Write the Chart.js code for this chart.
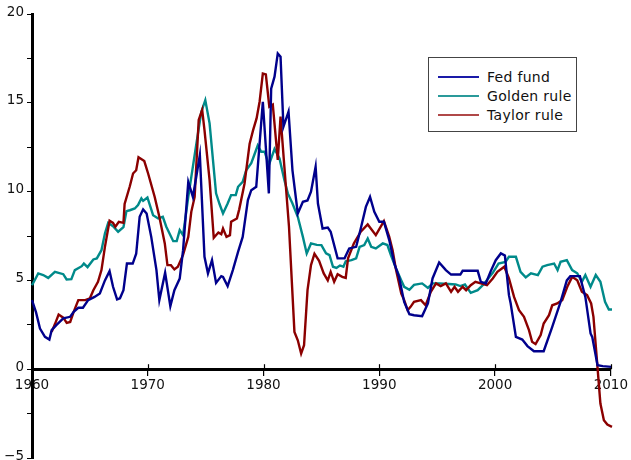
<!DOCTYPE html>
<html>
<head>
<meta charset="utf-8">
<script src="https://cdn.jsdelivr.net/npm/chart.js@4/dist/chart.umd.min.js"></script>
<style>
  html, body { margin: 0; padding: 0; background: #fff; }
  #wrap { position: relative; width: 631px; height: 460px; }
  #legend { position: absolute; left: 428px; top: 57px; width: 147px; height: 73px;
    border: 1.5px solid #444; background: #fff; font-family: "DejaVu Sans", sans-serif; font-size: 14px; color: #111; }
  .row { position: absolute; left: 0; height: 18px; }
  .sample { position: absolute; left: 9px; width: 41px; height: 2px; top: 8px; }
  .label { position: absolute; left: 58px; top: 0; line-height: 18px; white-space: nowrap; letter-spacing: 0.3px; }
</style>
</head>
<body>
<div id="wrap">
  <canvas id="c" width="631" height="460"></canvas>
  <div id="legend"></div>
</div>
<script>
// ---- Data ----
const seriesNames = ["Fed fund", "Golden rule", "Taylor rule"];
const seriesColors = ["#00008c", "#008a8a", "#8b0000"];
const legendColors = ["#1a1aa8", "#2a9a9a", "#b04848"];
const xTickLabels = [1960, 1970, 1980, 1990, 2000, 2010];
const yTickLabels = [-5, 0, 5, 10, 15, 20];

const fedYears = [1960.0,1960.35,1960.69,1961.12,1961.5,1961.7,1962.1,1962.7,1963.3,1963.6,1964.0,1964.4,1964.85,1965.4,1965.86,1966.3,1966.7,1967.0,1967.35,1967.6,1967.9,1968.2,1968.7,1969.0,1969.3,1969.6,1969.9,1970.3,1970.75,1971.0,1971.5,1971.95,1972.3,1972.76,1973.05,1973.5,1973.9,1974.5,1974.9,1975.2,1975.55,1975.9,1976.35,1976.5,1976.9,1977.35,1977.8,1978.2,1978.65,1978.94,1979.37,1979.66,1979.94,1980.46,1980.66,1980.95,1981.23,1981.47,1981.72,1982.16,1982.5,1982.96,1983.4,1983.8,1984.1,1984.5,1984.7,1985.1,1985.55,1985.8,1986.4,1987.0,1987.4,1988.0,1988.4,1988.84,1989.2,1989.57,1990.0,1990.4,1990.86,1991.3,1991.7,1992.15,1992.6,1993.0,1993.7,1994.2,1994.6,1995.17,1995.75,1996.2,1997.0,1997.2,1998.5,1998.77,1999.2,1999.6,2000.06,2000.5,2000.85,2001.2,2001.35,2001.8,2002.35,2002.8,2003.36,2004.2,2004.94,2005.66,2006.2,2006.5,2007.33,2007.8,2008.25,2008.4,2008.85,2009.3,2010.05];
const fedValues = [3.89,3.2,2.29,1.82,1.67,2.2,2.48,2.86,2.95,3.23,3.46,3.46,3.89,4.07,4.26,5.0,5.52,4.64,3.93,3.99,4.45,5.95,5.95,6.5,8.58,9.0,8.77,7.45,5.58,3.89,5.43,3.55,4.45,5.1,6.7,10.55,9.7,12.06,6.33,5.39,6.14,4.86,5.24,5.2,4.68,5.58,6.61,7.45,9.52,10.08,10.27,12.7,15.06,9.9,15.8,16.47,17.78,17.6,13.65,14.5,11.2,8.77,9.43,9.5,9.99,11.4,9.33,7.92,7.97,7.74,6.24,6.24,6.8,6.89,7.92,9.14,9.7,8.86,8.3,8.3,7.27,5.95,5.2,3.79,3.1,3.04,2.99,3.7,5.11,6.01,5.58,5.33,5.33,5.54,5.54,4.92,4.83,5.48,6.14,6.52,6.4,4.17,3.7,1.82,1.67,1.3,1.01,1.01,2.38,3.79,5.0,5.24,5.24,4.07,2.01,1.8,0.22,0.17,0.13];

const goldenYears = [1960.0,1960.54,1960.97,1961.4,1961.98,1962.7,1962.99,1963.4,1963.7,1964.3,1964.48,1964.8,1965.3,1965.6,1966.0,1966.3,1966.58,1967.0,1967.44,1967.9,1968.16,1968.45,1968.88,1969.16,1969.45,1969.6,1969.97,1970.46,1970.9,1971.3,1971.6,1972.2,1972.5,1972.76,1973.05,1973.5,1974.2,1974.63,1974.97,1975.34,1975.9,1976.2,1976.5,1976.9,1977.2,1977.6,1977.8,1978.2,1978.5,1978.94,1979.2,1979.5,1979.8,1980.1,1980.46,1980.95,1981.38,1981.8,1982.1,1982.5,1982.96,1983.4,1983.73,1984.1,1984.6,1985.0,1985.4,1985.7,1986.0,1986.3,1986.6,1986.9,1987.1,1987.6,1988.0,1988.3,1988.7,1989.0,1989.3,1989.7,1990.3,1990.7,1991.0,1991.45,1991.9,1992.15,1992.6,1993.0,1993.7,1994.2,1994.6,1995.2,1996.0,1996.6,1997.0,1997.4,1997.9,1998.5,1999.0,1999.8,2000.3,2000.9,2001.2,2001.8,2002.2,2002.65,2003.1,2003.7,2004.1,2004.5,2005.1,2005.4,2005.66,2006.2,2006.66,2007.1,2007.5,2007.8,2008.25,2008.7,2009.1,2009.5,2009.83,2010.1];
const goldenValues = [4.73,5.39,5.3,5.14,5.48,5.35,5.05,5.07,5.58,5.8,5.95,5.75,6.18,6.24,6.7,7.64,8.24,8.05,7.74,8.0,8.9,8.95,9.05,9.24,9.62,9.48,9.67,8.67,8.49,8.58,8.02,7.21,7.21,7.83,7.55,9.7,12.7,14.5,15.15,13.84,9.9,9.3,8.77,9.33,9.8,9.8,10.27,10.55,11.2,11.6,12.06,12.6,12.24,12.24,11.5,12.4,11.87,10.65,9.9,9.33,8.58,7.45,6.52,7.08,7.0,6.99,6.52,6.42,5.77,5.7,5.84,5.77,6.08,6.14,6.24,6.89,6.99,7.36,6.89,6.8,7.08,6.99,6.42,5.67,5.0,4.64,4.47,4.75,4.83,4.58,4.83,4.83,4.8,4.77,4.68,4.77,4.3,4.45,4.77,5.43,5.95,6.04,6.33,6.33,5.48,5.17,5.4,5.3,5.77,5.86,5.95,5.58,6.05,6.14,5.58,5.4,4.92,5.3,4.64,5.3,4.92,3.79,3.36,3.36];

const taylorYears = [1961.7,1962.0,1962.3,1962.7,1963.0,1963.3,1963.6,1964.0,1964.6,1965.0,1965.3,1965.7,1966.0,1966.3,1966.7,1967.0,1967.2,1967.5,1967.9,1968.0,1968.45,1968.73,1969.0,1969.2,1969.7,1970.03,1970.6,1971.0,1971.47,1971.7,1972.0,1972.3,1972.6,1973.04,1973.5,1973.76,1974.05,1974.4,1974.7,1974.9,1975.34,1975.7,1976.1,1976.35,1976.5,1976.8,1977.1,1977.2,1977.7,1977.9,1978.36,1978.8,1979.1,1979.4,1979.66,1979.94,1980.2,1980.5,1980.8,1981.23,1981.47,1981.8,1982.2,1982.67,1982.96,1983.25,1983.5,1983.8,1984.1,1984.4,1984.8,1985.2,1985.55,1985.8,1986.1,1986.4,1986.8,1987.1,1987.3,1987.8,1988.4,1989.0,1989.7,1990.4,1990.86,1991.15,1991.45,1991.9,1992.15,1992.45,1992.7,1993.0,1993.6,1994.0,1994.45,1994.9,1995.3,1995.75,1996.2,1996.5,1996.8,1997.2,1997.5,1997.9,1998.3,1998.77,1999.3,1999.8,2000.2,2000.8,2001.2,2001.64,2002.07,2002.5,2002.93,2003.2,2003.5,2003.94,2004.2,2004.66,2004.94,2005.37,2005.8,2006.24,2006.66,2007.1,2007.5,2007.95,2008.3,2008.5,2008.8,2009.1,2009.4,2009.7,2010.1];
const taylorValues = [2.1,2.57,3.08,2.9,2.61,2.66,3.23,3.89,3.89,3.99,4.45,4.92,5.58,6.89,8.36,8.24,8.02,8.3,8.24,9.3,10.3,11.02,11.2,11.93,11.72,11.02,9.7,8.58,7.08,5.86,5.86,5.62,5.77,6.42,7.45,8.86,9.7,14.03,14.6,13.46,10.65,7.4,7.7,7.6,7.92,7.45,7.55,8.3,8.49,9.0,10.46,12.7,13.46,14.12,15.06,16.65,16.6,14.78,14.9,11.78,14.22,11.4,8.02,2.1,1.63,0.88,1.35,4.45,5.86,6.5,6.1,5.39,5.0,5.48,4.92,5.35,5.2,5.14,6.24,7.08,7.74,8.15,7.55,8.34,7.45,6.7,5.58,4.26,3.89,3.32,3.51,3.79,3.89,3.6,4.36,4.83,4.68,4.83,4.36,4.64,4.36,4.64,4.45,4.73,4.92,4.83,4.73,5.11,5.48,5.77,5.11,4.07,3.32,2.95,2.2,1.54,1.41,1.92,2.57,3.04,3.6,3.7,3.89,4.64,5.2,5.01,4.36,4.17,3.7,2.95,0.51,-1.93,-2.87,-3.12,-3.25];

// ---- Build datasets ----
function pts(xs, ys) { return xs.map((x, i) => ({ x: x, y: ys[i] })); }
const seriesData = [pts(fedYears, fedValues), pts(goldenYears, goldenValues), pts(taylorYears, taylorValues)];
const datasets = seriesNames.map((n, i) => ({
  label: n,
  data: seriesData[i],
  borderColor: seriesColors[i],
  backgroundColor: seriesColors[i],
  borderWidth: 2.4,
  pointRadius: 0,
  tension: 0,
  fill: false,
  clip: 4
}));
datasets[1].order = 3; datasets[2].order = 2; datasets[0].order = 1;

// ---- HTML legend ----
const lg = document.getElementById('legend');
seriesNames.forEach((n, i) => {
  const row = document.createElement('div');
  row.className = 'row';
  row.style.top = (10 + i * 18.8) + 'px';
  row.style.width = '100%';
  const s = document.createElement('div');
  s.className = 'sample';
  s.style.backgroundColor = legendColors[i];
  const t = document.createElement('div');
  t.className = 'label';
  t.textContent = n;
  row.appendChild(s); row.appendChild(t);
  lg.appendChild(row);
});

// ---- Crossing tick marks on x-axis (upper half) ----
const upTicks = {
  id: 'upTicks',
  afterDraw(chart) {
    const xs = chart.scales.x, ys = chart.scales.y;
    const y0 = ys.getPixelForValue(0);
    const ctx = chart.ctx;
    ctx.save();
    ctx.strokeStyle = '#000';
    ctx.lineWidth = 1.2;
    xTickLabels.forEach(v => {
      const px = Math.round(xs.getPixelForValue(v)) + 0.5;
      ctx.beginPath();
      ctx.moveTo(px, y0 - 5);
      ctx.lineTo(px, y0);
      ctx.stroke();
    });
    ctx.restore();
  }
};

const font = { family: '"DejaVu Sans", sans-serif', size: 13.5 };

new Chart(document.getElementById('c'), {
  type: 'line',
  data: { datasets: datasets },
  options: {
    responsive: false,
    animation: false,
    events: [],
    layout: { padding: { top: 14, right: 19, bottom: 2, left: 0 } },
    plugins: { legend: { display: false }, tooltip: { enabled: false } },
    scales: {
      x: {
        type: 'linear',
        min: xTickLabels[0],
        max: xTickLabels[xTickLabels.length - 1],
        position: { y: 0 },
        border: { display: true, color: '#000', width: 3 },
        grid: { display: true, drawOnChartArea: false, drawTicks: true, tickLength: 5, color: '#000', lineWidth: 1.2 },
        ticks: {
          stepSize: 10,
          padding: 3,
          color: '#111',
          font: font,
          maxRotation: 0,
          autoSkip: false,
          callback: (v) => xTickLabels.includes(v) ? String(v) : ''
        }
      },
      y: {
        type: 'linear',
        min: yTickLabels[0],
        max: yTickLabels[yTickLabels.length - 1],
        position: 'left',
        border: { display: true, color: '#000', width: 3 },
        grid: { display: true, drawOnChartArea: false, drawTicks: true, tickLength: 5, color: '#000', lineWidth: 1 },
        ticks: {
          stepSize: 2.5,
          padding: 3,
          labelOffset: -2,
          color: '#111',
          font: font,
          autoSkip: false,
          callback: (v) => yTickLabels.includes(v) ? (v < 0 ? '\u2212' + Math.abs(v) : String(v)) : ''
        },
        afterFit: (s) => { s.width = 32; s.paddingBottom = 0; s.paddingTop = 0; }
      }
    }
  },
  plugins: [upTicks]
});
</script>
</body>
</html>
